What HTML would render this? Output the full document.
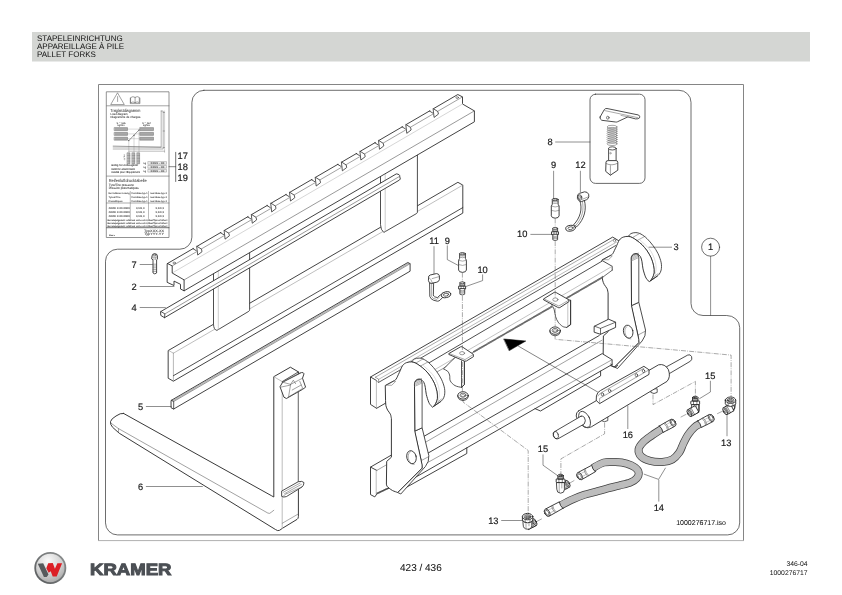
<!DOCTYPE html>
<html><head><meta charset="utf-8"><title>Pallet forks</title>
<style>
html,body{margin:0;padding:0;background:#fff;}
body{width:842px;height:595px;overflow:hidden;position:relative;font-family:"Liberation Sans",sans-serif;}
svg{position:absolute;left:0;top:0;will-change:transform;}
svg text{font-family:"Liberation Sans",sans-serif;text-rendering:geometricPrecision;}
</style></head><body>
<svg width="842" height="595" viewBox="0 0 842 595" stroke-linecap="round" stroke-linejoin="round">
<rect x="32" y="32" width="778" height="29.5" fill="#d4d6d3"/>
<text x="37.0" y="40.7" font-size="8" text-anchor="start" fill="#111" stroke="#111" stroke-width="0" >STAPELEINRICHTUNG</text>
<text x="37.0" y="48.7" font-size="8" text-anchor="start" fill="#111" stroke="#111" stroke-width="0" >APPAREILLAGE À PILE</text>
<text x="37.0" y="56.7" font-size="8" text-anchor="start" fill="#111" stroke="#111" stroke-width="0" >PALLET FORKS</text>
<path d="M98.5,540.5 V84.5 H743.5 V540.5" fill="none" stroke="#858585" stroke-width="1" stroke-linecap="square"/>
<path d="M98.5,540.6 H743.5" fill="none" stroke="#b0b0b0" stroke-width="1"/>
<path d="M203.9,90.3 L679,90.3 A12,12 0 0 1 691,102.3 L691,303.5 A12,12 0 0 0 703,315.5 L726.7,315.5 A13,12 0 0 1 739.7,327.5 L739.7,522.9 A12,12 0 0 1 727.7,534.9 L117.5,534.9 A12,12 0 0 1 105.5,522.9 L105.5,261.2 A12,12 0 0 1 117.5,249.2 L179.9,249.2 A12,12 0 0 0 191.9,237.2 L191.9,102.3 A12,12 0 0 1 203.9,90.3 Z" stroke="#3c3c3c" stroke-width="0.75" fill="none" />
<defs>
<radialGradient id="lg" cx="0.42" cy="0.25" r="0.85"><stop offset="0" stop-color="#fafafa"/><stop offset="0.55" stop-color="#d2d2d2"/><stop offset="1" stop-color="#a0a0a0"/></radialGradient>
</defs>
<defs><linearGradient id="rg" x1="1" y1="0" x2="0" y2="1"><stop offset="0" stop-color="#8f9292"/><stop offset="1" stop-color="#55585a"/></linearGradient></defs>
<circle cx="50.3" cy="568.0" r="16.0" fill="url(#rg)"/>
<circle cx="50.3" cy="568.0" r="14.2" fill="url(#lg)"/>
<path d="M37.8,563.7 L43.2,563.3 L48.5,574.4 L46.7,576.9 L43.9,576.9 Z" fill="#565a5c"/>
<path d="M48.2,563.3 L52.8,563.0 L54.9,568.7 L57.4,563.3 L62.1,563.2 L56.7,576.6 L52.7,576.6 L50.7,571.2 L48.7,572.8 L46.3,568.3 Z" fill="#dc1f26"/>
<text x="90.0" y="575.3" font-size="16.2" font-weight="bold" fill="#4b4f54" textLength="81.4" lengthAdjust="spacingAndGlyphs" stroke="#4b4f54" stroke-width="1.0" stroke-linejoin="miter">KRAMER</text>
<text x="420.9" y="570.6" font-size="10" text-anchor="middle" fill="#111" stroke="#111" stroke-width="0.05" >423 / 436</text>
<text x="807.6" y="565.9" font-size="6.8" text-anchor="end" fill="#111" stroke="#111" stroke-width="0" >346-04</text>
<text x="807.6" y="574.6" font-size="6.8" text-anchor="end" fill="#111" stroke="#111" stroke-width="0" >1000276717</text>
<text x="726.0" y="524.8" font-size="7" text-anchor="end" fill="#111" stroke="#111" stroke-width="0.06" >1000276717.iso</text>
<rect x="106.7" y="91.8" width="62.3" height="145.7" fill="#fff" stroke="#666" stroke-width="0.7"/>
<path d="M106.7,105.8 L169.0,105.8" stroke="#666" stroke-width="0.6" fill="none" />
<path d="M106.7,176.1 L169.0,176.1" stroke="#666" stroke-width="0.6" fill="none" />
<path d="M110.9,104.2 L117.5,92.8 L124.1,104.2 Z" stroke="#555" stroke-width="0.55" fill="none" />
<path d="M117.6,96.5 L117.6,101.5" stroke="#666" stroke-width="0.6" fill="none" />
<path d="M130.9,97.4 q2.1,-1.6 4.2,0 q2.1,-1.6 4.2,0 v5.2 q-2.1,-1.4 -4.2,0 q-2.1,-1.4 -4.2,0 Z M135.1,97.4 v5.2 M130.3,98.2 v5.4 h9.6 v-5.4" stroke="#444" stroke-width="0.5" fill="none" />
<text x="110.3" y="111.6" font-size="4.37" fill="#444" stroke="#444" stroke-width="0.06" text-anchor="start" textLength="30" lengthAdjust="spacingAndGlyphs">Traglastdiagramm</text>
<text x="110.5" y="114.8" font-size="2.91" fill="#3a3a3a" stroke="#3a3a3a" stroke-width="0.06" text-anchor="start" textLength="17" lengthAdjust="spacingAndGlyphs">Load diagram</text>
<text x="110.5" y="118.1" font-size="2.91" fill="#3a3a3a" stroke="#3a3a3a" stroke-width="0.06" text-anchor="start" textLength="30" lengthAdjust="spacingAndGlyphs">Diagramme de charges</text>
<text x="116.5" y="123.5" font-size="2.46" fill="#3a3a3a" stroke="#3a3a3a" stroke-width="0.06" text-anchor="start" textLength="9" lengthAdjust="spacingAndGlyphs">S = 125</text>
<text x="117.5" y="126.0" font-size="2.46" fill="#3a3a3a" stroke="#3a3a3a" stroke-width="0.06" text-anchor="start" textLength="7" lengthAdjust="spacingAndGlyphs">kg/Nm</text>
<text x="142" y="123.5" font-size="2.46" fill="#3a3a3a" stroke="#3a3a3a" stroke-width="0.06" text-anchor="start" textLength="9" lengthAdjust="spacingAndGlyphs">S = 1a7</text>
<text x="143" y="126.0" font-size="2.46" fill="#3a3a3a" stroke="#3a3a3a" stroke-width="0.06" text-anchor="start" textLength="7" lengthAdjust="spacingAndGlyphs">kg/Nm</text>
<rect x="114.5" y="127.6" width="13" height="3" fill="#a8a8a8" stroke="#555" stroke-width="0.4"/>
<rect x="140" y="127.6" width="13.5" height="3" fill="#a8a8a8" stroke="#555" stroke-width="0.4"/>
<path d="M127.5,129.1 L140.0,129.1" stroke="#888" stroke-width="0.3" fill="none" />
<rect x="114.5" y="132.4" width="13" height="3" fill="#a8a8a8" stroke="#555" stroke-width="0.4"/>
<rect x="140" y="132.4" width="13.5" height="3" fill="#a8a8a8" stroke="#555" stroke-width="0.4"/>
<path d="M127.5,133.9 L140.0,133.9" stroke="#888" stroke-width="0.3" fill="none" />
<rect x="114.5" y="137.2" width="13" height="3" fill="#a8a8a8" stroke="#555" stroke-width="0.4"/>
<rect x="140" y="137.2" width="13.5" height="3" fill="#a8a8a8" stroke="#555" stroke-width="0.4"/>
<path d="M127.5,138.7 L140.0,138.7" stroke="#888" stroke-width="0.3" fill="none" />
<path d="M128.8,140.6 L139.0,130.0" stroke="#555" stroke-width="0.6" fill="none" />
<circle cx="128.8" cy="140.6" r="0.6" fill="#444"/>
<path d="M128.8,140.6 L128.8,152.0" stroke="#777" stroke-width="0.3" fill="none" />
<circle cx="134" cy="135.3" r="0.6" fill="#444"/>
<path d="M134.0,135.3 L134.0,152.0" stroke="#777" stroke-width="0.3" fill="none" />
<circle cx="139" cy="130" r="0.6" fill="#444"/>
<path d="M139.0,130.0 L139.0,152.0" stroke="#777" stroke-width="0.3" fill="none" />
<path d="M161.2,111.0 h2.0 v38.0 h-50.0 M161.2,111.0 v36.0 h-48.0 M113.2,146.0 L161.2,147.4 M163.2,112.5 h1.4 M163.2,131 h1.4 M163.2,147.5 h1.4" stroke="#555" stroke-width="0.45" fill="none" />
<path d="M164.6,111.0 L164.6,152.4" stroke="#777" stroke-width="0.35" fill="none" />
<path d="M128.8,151.2 L164.6,151.2" stroke="#555" stroke-width="0.4" fill="none" />
<rect x="127.4" y="152.8" width="2.5" height="11.0" fill="#b4b4b4" stroke="#555" stroke-width="0.4"/>
<path d="M127.4,155.5 L129.9,155.5" stroke="#666" stroke-width="0.3" fill="none" />
<path d="M127.4,158.3 L129.9,158.3" stroke="#666" stroke-width="0.3" fill="none" />
<path d="M127.4,161.1 L129.9,161.1" stroke="#666" stroke-width="0.3" fill="none" />
<rect x="132.25" y="152.8" width="2.5" height="11.0" fill="#b4b4b4" stroke="#555" stroke-width="0.4"/>
<path d="M132.2,155.5 L134.8,155.5" stroke="#666" stroke-width="0.3" fill="none" />
<path d="M132.2,158.3 L134.8,158.3" stroke="#666" stroke-width="0.3" fill="none" />
<path d="M132.2,161.1 L134.8,161.1" stroke="#666" stroke-width="0.3" fill="none" />
<rect x="137.1" y="152.8" width="2.5" height="11.0" fill="#b4b4b4" stroke="#555" stroke-width="0.4"/>
<path d="M137.1,155.5 L139.6,155.5" stroke="#666" stroke-width="0.3" fill="none" />
<path d="M137.1,158.3 L139.6,158.3" stroke="#666" stroke-width="0.3" fill="none" />
<path d="M137.1,161.1 L139.6,161.1" stroke="#666" stroke-width="0.3" fill="none" />
<text x="0" y="0" font-size="2.2" fill="#444" transform="translate(125.2,160.5) rotate(-90)">kg/Nm</text>
<rect x="148.2" y="161.6" width="18.3" height="2.7" fill="#eee" stroke="#666" stroke-width="0.35"/>
<text x="150.5" y="163.79999999999998" font-size="2.46" fill="#3a3a3a" stroke="#3a3a3a" stroke-width="0.06" text-anchor="start" textLength="14" lengthAdjust="spacingAndGlyphs">XXXX - XX</text>
<text x="143.5" y="163.9" font-size="2.24" fill="#3a3a3a" stroke="#3a3a3a" stroke-width="0.06" text-anchor="start" textLength="2.5" lengthAdjust="spacingAndGlyphs">kg</text>
<rect x="148.2" y="165.5" width="18.3" height="2.7" fill="#eee" stroke="#666" stroke-width="0.35"/>
<text x="150.5" y="167.7" font-size="2.46" fill="#3a3a3a" stroke="#3a3a3a" stroke-width="0.06" text-anchor="start" textLength="14" lengthAdjust="spacingAndGlyphs">XXXX - XX</text>
<text x="143.5" y="167.8" font-size="2.24" fill="#3a3a3a" stroke="#3a3a3a" stroke-width="0.06" text-anchor="start" textLength="2.5" lengthAdjust="spacingAndGlyphs">kg</text>
<rect x="148.2" y="169.4" width="18.3" height="2.7" fill="#eee" stroke="#666" stroke-width="0.35"/>
<text x="150.5" y="171.6" font-size="2.46" fill="#3a3a3a" stroke="#3a3a3a" stroke-width="0.06" text-anchor="start" textLength="14" lengthAdjust="spacingAndGlyphs">XXXX - XX</text>
<text x="143.5" y="171.70000000000002" font-size="2.24" fill="#3a3a3a" stroke="#3a3a3a" stroke-width="0.06" text-anchor="start" textLength="2.5" lengthAdjust="spacingAndGlyphs">kg</text>
<text x="111" y="166.2" font-size="2.58" fill="#3a3a3a" stroke="#3a3a3a" stroke-width="0.06" text-anchor="start" textLength="27" lengthAdjust="spacingAndGlyphs">Gültig für Anbaugerät</text>
<text x="111" y="169.6" font-size="2.58" fill="#3a3a3a" stroke="#3a3a3a" stroke-width="0.06" text-anchor="start" textLength="24" lengthAdjust="spacingAndGlyphs">Valid for attachment</text>
<text x="111" y="173.0" font-size="2.58" fill="#3a3a3a" stroke="#3a3a3a" stroke-width="0.06" text-anchor="start" textLength="29" lengthAdjust="spacingAndGlyphs">Valable pour l'équipement</text>
<text x="108.7" y="181.9" font-size="4.37" fill="#444" stroke="#444" stroke-width="0.06" text-anchor="start" textLength="38" lengthAdjust="spacingAndGlyphs">Reifenluftdrucktabelle</text>
<text x="108.7" y="185.5" font-size="3.14" fill="#3a3a3a" stroke="#3a3a3a" stroke-width="0.06" text-anchor="start" textLength="25" lengthAdjust="spacingAndGlyphs">Tyre/Tire pressure</text>
<text x="108.7" y="188.9" font-size="3.14" fill="#3a3a3a" stroke="#3a3a3a" stroke-width="0.06" text-anchor="start" textLength="30" lengthAdjust="spacingAndGlyphs">Pression pneumatiques</text>
<path d="M106.7,203.0 L169.0,203.0" stroke="#555" stroke-width="0.5" fill="none" />
<path d="M130.3,191.5 L130.3,218.5" stroke="#555" stroke-width="0.4" fill="none" />
<path d="M148.5,191.5 L148.5,218.5" stroke="#555" stroke-width="0.4" fill="none" />
<text x="108.5" y="194.2" font-size="2.35" fill="#3a3a3a" stroke="#3a3a3a" stroke-width="0.06" text-anchor="start" textLength="21" lengthAdjust="spacingAndGlyphs">Bei Verlässer-Lösung</text>
<text x="131.5" y="194.2" font-size="2.35" fill="#3a3a3a" stroke="#3a3a3a" stroke-width="0.06" text-anchor="start" textLength="16" lengthAdjust="spacingAndGlyphs">front-Bau-typ-1</text>
<text x="150" y="194.2" font-size="2.35" fill="#3a3a3a" stroke="#3a3a3a" stroke-width="0.06" text-anchor="start" textLength="17" lengthAdjust="spacingAndGlyphs">rear-Bau-typ-1</text>
<text x="108.5" y="197.9" font-size="2.35" fill="#3a3a3a" stroke="#3a3a3a" stroke-width="0.06" text-anchor="start" textLength="12" lengthAdjust="spacingAndGlyphs">Tyres/Tire</text>
<text x="131.5" y="197.9" font-size="2.35" fill="#3a3a3a" stroke="#3a3a3a" stroke-width="0.06" text-anchor="start" textLength="16" lengthAdjust="spacingAndGlyphs">front-Bau-typ-1</text>
<text x="150" y="197.9" font-size="2.35" fill="#3a3a3a" stroke="#3a3a3a" stroke-width="0.06" text-anchor="start" textLength="17" lengthAdjust="spacingAndGlyphs">rear-Bau-typ-1</text>
<text x="108.5" y="201.6" font-size="2.35" fill="#3a3a3a" stroke="#3a3a3a" stroke-width="0.06" text-anchor="start" textLength="14" lengthAdjust="spacingAndGlyphs">Pressél/ques</text>
<text x="131.5" y="201.6" font-size="2.35" fill="#3a3a3a" stroke="#3a3a3a" stroke-width="0.06" text-anchor="start" textLength="16" lengthAdjust="spacingAndGlyphs">front-Bau-typ-1</text>
<text x="150" y="201.6" font-size="2.35" fill="#3a3a3a" stroke="#3a3a3a" stroke-width="0.06" text-anchor="start" textLength="17" lengthAdjust="spacingAndGlyphs">rear-Bau-typ-1</text>
<text x="108.8" y="209.3" font-size="2.46" fill="#3a3a3a" stroke="#3a3a3a" stroke-width="0.06" text-anchor="start" textLength="21" lengthAdjust="spacingAndGlyphs">00/00 X 00 0000</text>
<text x="136" y="209.3" font-size="2.46" fill="#3a3a3a" stroke="#3a3a3a" stroke-width="0.06" text-anchor="start" textLength="8.5" lengthAdjust="spacingAndGlyphs">X,X/X,X</text>
<text x="155.5" y="209.3" font-size="2.46" fill="#3a3a3a" stroke="#3a3a3a" stroke-width="0.06" text-anchor="start" textLength="8.5" lengthAdjust="spacingAndGlyphs">X,X/X,X</text>
<text x="108.8" y="213" font-size="2.46" fill="#3a3a3a" stroke="#3a3a3a" stroke-width="0.06" text-anchor="start" textLength="21" lengthAdjust="spacingAndGlyphs">00/00 X 00 0000</text>
<text x="136" y="213" font-size="2.46" fill="#3a3a3a" stroke="#3a3a3a" stroke-width="0.06" text-anchor="start" textLength="8.5" lengthAdjust="spacingAndGlyphs">X,X/X,X</text>
<text x="155.5" y="213" font-size="2.46" fill="#3a3a3a" stroke="#3a3a3a" stroke-width="0.06" text-anchor="start" textLength="8.5" lengthAdjust="spacingAndGlyphs">X,X/X,X</text>
<text x="108.8" y="216.7" font-size="2.46" fill="#3a3a3a" stroke="#3a3a3a" stroke-width="0.06" text-anchor="start" textLength="21" lengthAdjust="spacingAndGlyphs">00/00 X 00 0000</text>
<text x="136" y="216.7" font-size="2.46" fill="#3a3a3a" stroke="#3a3a3a" stroke-width="0.06" text-anchor="start" textLength="8.5" lengthAdjust="spacingAndGlyphs">X,X/X,X</text>
<text x="155.5" y="216.7" font-size="2.46" fill="#3a3a3a" stroke="#3a3a3a" stroke-width="0.06" text-anchor="start" textLength="8.5" lengthAdjust="spacingAndGlyphs">X,X/X,X</text>
<text x="107.5" y="221.2" font-size="2.24" fill="#333" stroke="#333" stroke-width="0.06" text-anchor="start" textLength="60" lengthAdjust="spacingAndGlyphs">Bei Stapelgabeln Luftdruck vorne um 0,5bar/7psi erhöhen!</text>
<text x="107.5" y="223.9" font-size="2.24" fill="#333" stroke="#333" stroke-width="0.06" text-anchor="start" textLength="60" lengthAdjust="spacingAndGlyphs">Bei Stapelgabeln Luftdruck vorne um 0,5bar/7psi erhöhen!</text>
<text x="107.5" y="226.6" font-size="2.24" fill="#333" stroke="#333" stroke-width="0.06" text-anchor="start" textLength="60" lengthAdjust="spacingAndGlyphs">Bei Stapelgabeln Luftdruck vorne um 0,5bar/7psi erhöhen!</text>
<path d="M106.7,227.7 L169.0,227.7" stroke="#333" stroke-width="0.7" fill="none" />
<text x="144" y="231.5" font-size="3.36" fill="#333" stroke="#333" stroke-width="0.06" text-anchor="start" textLength="20" lengthAdjust="spacingAndGlyphs">TypXXX-XX</text>
<text x="144" y="234.6" font-size="3.36" fill="#333" stroke="#333" stroke-width="0.06" text-anchor="start" textLength="20" lengthAdjust="spacingAndGlyphs">TypYYY-YY</text>
<text x="109" y="236.3" font-size="2.02" fill="#333" stroke="#333" stroke-width="0.06" text-anchor="start" textLength="6" lengthAdjust="spacingAndGlyphs">Made in</text>
<path d="M175.7,152.3 L175.7,181.5" stroke="#333" stroke-width="0.7" fill="none" />
<path d="M169.0,166.7 L175.7,166.7" stroke="#333" stroke-width="0.6" fill="none" />
<text x="177.6" y="159.0" font-size="9.3" text-anchor="start" fill="#1a1a1a" stroke="#1a1a1a" stroke-width="0.18" >17</text>
<text x="177.6" y="169.8" font-size="9.3" text-anchor="start" fill="#1a1a1a" stroke="#1a1a1a" stroke-width="0.18" >18</text>
<text x="177.6" y="180.5" font-size="9.3" text-anchor="start" fill="#1a1a1a" stroke="#1a1a1a" stroke-width="0.18" >19</text>
<path d="M168.5,350.4 L457.9,182.3 L462.8,185.1 L462.8,213.1 L173.4,381.2 L168.5,378.4 Z" stroke="#2e2e2e" stroke-width="0.9" fill="#fff" />
<path d="M173.4,353.2 L462.8,185.1" stroke="#8a8a8a" stroke-width="0.55" fill="none" />
<path d="M168.5,350.4 L173.4,353.2" stroke="#8a8a8a" stroke-width="0.55" fill="none" />
<path d="M173.4,353.2 L173.4,381.2" stroke="#9a9a9a" stroke-width="0.7" fill="none" />
<path d="M173.4,375.7 L462.8,207.6" stroke="#2e2e2e" stroke-width="0.85" fill="none" />
<path d="M213.5,268 L213.5,324.3 Q213.7,329.7 216.9,330.4 L248.79999999999998,311.3 Q249.6,310.8 249.6,309.8 L249.6,248 Z" stroke="#2e2e2e" stroke-width="0.85" fill="#fff" />
<path d="M218.3,266.0 L218.3,329.6" stroke="#aaa" stroke-width="0.6" fill="none" />
<path d="M380.5,172 L380.5,224.7 Q380.7,230.1 383.8,232.4 L416.59999999999997,213.5 Q417.4,213.0 417.4,212.0 L417.4,150 Z" stroke="#2e2e2e" stroke-width="0.85" fill="#fff" />
<path d="M385.2,170.0 L385.2,231.6" stroke="#aaa" stroke-width="0.6" fill="none" />
<path d="M160.9,311.5 L396.3,173.9 Q400.2,174.2 399.8,176.79999999999998 Q401,179.5 399.5,180.0 L164.5,317.7 L161.1,315.6 Z" stroke="#2e2e2e" stroke-width="0.9" fill="#fff" />
<path d="M164.9,313.9 L399.2,176.6" stroke="#555" stroke-width="0.6" fill="none" />
<path d="M160.9,311.5 L164.9,313.9 L164.5,317.7" stroke="#2e2e2e" stroke-width="0.8" fill="none" />
<path d="M167.5,263.5 L457.8,94.5 L462.5,96.9 L462.5,104.0 L474.4,110.9 L474.4,121.8 L184.1,290.8 L180.5,289.0 L180.5,284.3 L174.0,281.1 L174.0,285.5 L167.5,282.5 Z" stroke="#2e2e2e" stroke-width="0.9" fill="#fff" />
<path d="M172.2,265.9 L462.5,96.9" stroke="#555" stroke-width="0.55" fill="none" />
<path d="M172.2,273.0 L462.5,104.0" stroke="#c4c4c4" stroke-width="0.7" fill="none" />
<path d="M184.1,279.9 L474.4,110.9" stroke="#555" stroke-width="0.6" fill="none" />
<path d="M167.5,263.5 L172.2,265.9 L172.2,273.0 L184.1,279.9 L184.1,290.8" stroke="#2e2e2e" stroke-width="0.9" fill="none" />
<path d="M193.2,247.5 L196.9,245.1 L197.8,254.7 L196.2,250.9 Z" stroke="#fff" stroke-width="0.1" fill="#fff" />
<path d="M193.0,248.7 L196.3,250.7" stroke="#2e2e2e" stroke-width="0.8" fill="none" />
<path d="M197.0,246.3 L201.5,249.2 L202.0,251.7 L198.0,254.8 Z" stroke="#2e2e2e" stroke-width="0.8" fill="#fff" />
<path d="M220.6,231.5 L224.3,229.2 L225.2,238.8 L223.6,234.9 Z" stroke="#fff" stroke-width="0.1" fill="#fff" />
<path d="M220.4,232.7 L223.7,234.7" stroke="#2e2e2e" stroke-width="0.8" fill="none" />
<path d="M224.4,230.4 L228.9,233.3 L229.4,235.8 L225.4,238.9 Z" stroke="#2e2e2e" stroke-width="0.8" fill="#fff" />
<path d="M247.8,215.7 L251.5,213.3 L252.4,222.9 L250.8,219.1 Z" stroke="#fff" stroke-width="0.1" fill="#fff" />
<path d="M247.6,216.9 L250.9,218.9" stroke="#2e2e2e" stroke-width="0.8" fill="none" />
<path d="M251.6,214.5 L256.1,217.4 L256.6,219.9 L252.6,223.0 Z" stroke="#2e2e2e" stroke-width="0.8" fill="#fff" />
<path d="M267.2,204.4 L270.9,202.0 L271.8,211.6 L270.2,207.8 Z" stroke="#fff" stroke-width="0.1" fill="#fff" />
<path d="M267.0,205.6 L270.3,207.6" stroke="#2e2e2e" stroke-width="0.8" fill="none" />
<path d="M271.0,203.2 L275.5,206.1 L276.0,208.6 L272.0,211.7 Z" stroke="#2e2e2e" stroke-width="0.8" fill="#fff" />
<path d="M286.0,193.4 L289.7,191.1 L290.6,200.7 L289.0,196.8 Z" stroke="#fff" stroke-width="0.1" fill="#fff" />
<path d="M285.8,194.6 L289.1,196.6" stroke="#2e2e2e" stroke-width="0.8" fill="none" />
<path d="M289.8,192.3 L294.3,195.2 L294.8,197.7 L290.8,200.8 Z" stroke="#2e2e2e" stroke-width="0.8" fill="#fff" />
<path d="M311.7,178.5 L315.4,176.1 L316.3,185.7 L314.7,181.9 Z" stroke="#fff" stroke-width="0.1" fill="#fff" />
<path d="M311.5,179.7 L314.8,181.7" stroke="#2e2e2e" stroke-width="0.8" fill="none" />
<path d="M315.5,177.3 L320.0,180.2 L320.5,182.7 L316.5,185.8 Z" stroke="#2e2e2e" stroke-width="0.8" fill="#fff" />
<path d="M337.9,163.2 L341.6,160.9 L342.5,170.5 L340.9,166.6 Z" stroke="#fff" stroke-width="0.1" fill="#fff" />
<path d="M337.7,164.4 L341.0,166.4" stroke="#2e2e2e" stroke-width="0.8" fill="none" />
<path d="M341.7,162.1 L346.2,165.0 L346.7,167.5 L342.7,170.6 Z" stroke="#2e2e2e" stroke-width="0.8" fill="#fff" />
<path d="M356.4,152.4 L360.1,150.1 L361.0,159.7 L359.4,155.8 Z" stroke="#fff" stroke-width="0.1" fill="#fff" />
<path d="M356.2,153.6 L359.5,155.6" stroke="#2e2e2e" stroke-width="0.8" fill="none" />
<path d="M360.2,151.3 L364.7,154.2 L365.2,156.7 L361.2,159.8 Z" stroke="#2e2e2e" stroke-width="0.8" fill="#fff" />
<path d="M375.0,141.6 L378.7,139.3 L379.6,148.9 L378.0,145.0 Z" stroke="#fff" stroke-width="0.1" fill="#fff" />
<path d="M374.8,142.8 L378.1,144.8" stroke="#2e2e2e" stroke-width="0.8" fill="none" />
<path d="M378.8,140.5 L383.3,143.4 L383.8,145.9 L379.8,149.0 Z" stroke="#2e2e2e" stroke-width="0.8" fill="#fff" />
<path d="M402.3,125.7 L406.0,123.4 L406.9,133.0 L405.3,129.1 Z" stroke="#fff" stroke-width="0.1" fill="#fff" />
<path d="M402.1,126.9 L405.4,128.9" stroke="#2e2e2e" stroke-width="0.8" fill="none" />
<path d="M406.1,124.6 L410.6,127.5 L411.1,130.0 L407.1,133.1 Z" stroke="#2e2e2e" stroke-width="0.8" fill="#fff" />
<path d="M429.6,109.8 L433.3,107.5 L434.2,117.1 L432.6,113.2 Z" stroke="#fff" stroke-width="0.1" fill="#fff" />
<path d="M429.4,111.0 L432.7,113.0" stroke="#2e2e2e" stroke-width="0.8" fill="none" />
<path d="M433.4,108.7 L437.9,111.6 L438.4,114.1 L434.4,117.2 Z" stroke="#2e2e2e" stroke-width="0.8" fill="#fff" />
<ellipse cx="174.2" cy="263.0" rx="1.3" ry="0.9" transform="rotate(0 174.2 263.0)" stroke="#444" stroke-width="0.6" fill="none"/>
<ellipse cx="457.2" cy="97.6" rx="1.3" ry="0.9" transform="rotate(0 457.2 97.6)" stroke="#444" stroke-width="0.6" fill="none"/>
<path d="M171.4,400.3 L407.8,262.5 L410.1,263.7 L410.1,271.2 L173.7,409.0 L171.4,407.9 Z" stroke="#2e2e2e" stroke-width="0.9" fill="#fff" />
<path d="M173.7,401.5 L410.1,263.7" stroke="#555" stroke-width="0.6" fill="none" />
<path d="M172.6,400.9 L409.0,263.1" stroke="#666" stroke-width="1.3" fill="none" stroke-dasharray="0.5 0.5" stroke-linecap="butt"/>
<path d="M171.4,400.3 L173.7,401.5 L173.7,409.0" stroke="#2e2e2e" stroke-width="0.8" fill="none" />
<path d="M123.5,413.4 L271.3,495.6 L273.8,497.0 L273.8,376.7 L290.4,367.2 L298.4,371.9 L298.4,516.5 Q298.4,518.6 297.0,519.4 L282.4,528.3 L279.6,530.3 Q277.8,531.3 275.6,529.6 L119.2,433.2 L112.6,427.3 Q110.0,424.3 110.5,421.6 Q111.2,418.8 116.0,416.0 Q120.5,412.8 123.5,413.4 Z" stroke="#2e2e2e" stroke-width="0.95" fill="#fff" />
<path d="M111.3,423.4 L118.5,428.6 L267.9,513.1 Q269.8,514.0 271.2,512.3 L273.8,510.3" stroke="#555" stroke-width="0.55" fill="none" />
<path d="M118.5,428.6 L118.5,432.4" stroke="#555" stroke-width="0.5" fill="none" />
<path d="M273.8,376.7 L282.2,381.6 L282.2,528.0" stroke="#b5b5b5" stroke-width="0.9" fill="none" />
<path d="M282.2,381.6 L298.4,371.9" stroke="#2e2e2e" stroke-width="0.8" fill="none" />
<path d="M282.2,523.3 L298.4,513.9" stroke="#555" stroke-width="0.5" fill="none" />
<path d="M298.4,390.0 L298.4,482.0" stroke="#8a8a8a" stroke-width="1.1" fill="none" />
<path d="M280.2,386.4 L282.7,382.2 L301.4,372.6 Q303.6,372.2 304.0,373.8 L302.5,378.2 L305.6,387.2 L302.5,389.4 L286.4,398.5 L284.3,397.4 Z" stroke="#2e2e2e" stroke-width="0.9" fill="#fff" />
<path d="M282.7,382.2 L290.6,384.4 L302.5,378.2 M290.6,384.4 L288.6,396.6 M290.6,384.4 L293.3,380.2 L295.6,383.7 M288.8,396.8 L302.7,388.4 L299.8,381.4 M280.4,387.2 L290,385.2 M292.2,390.0 L301.2,385.0" stroke="#555" stroke-width="0.55" fill="none" />
<path d="M284.6,380.6 L300.6,372.4" stroke="#555" stroke-width="0.5" fill="none" />
<path d="M282.0,490.9 L298.3,481.7 Q302.4,480.6 304.0,482.6 Q303.8,485.6 302.0,487.0 L286.4,496.6 Q283.4,497.6 282.0,496.6 Z" stroke="#2e2e2e" stroke-width="0.85" fill="#fff" />
<path d="M283.4,492.2 L300.2,483.0 M284.6,493.6 L301.4,484.4 M286.4,493.6 L283.0,496.4 M286.6,493.8 L302.0,486.8" stroke="#555" stroke-width="0.5" fill="none" />
<path d="M370.5,467.1 L599.3,335.5 L603.0,340.0 L603.0,372.0 L423.0,475.0 L374.8,496.9 L370.5,494.6 Z" stroke="#fff" stroke-width="0.1" fill="#fff" />
<path d="M370.5,467.1 L599.3,335.5" stroke="#2e2e2e" stroke-width="0.9" fill="none" />
<path d="M376.8,470.4 L602.0,340.2" stroke="#555" stroke-width="0.55" fill="none" />
<path d="M370.5,467.1 L376.8,470.4 L376.8,494.0 L374.8,496.9 L370.5,494.6 Z" stroke="#fff" stroke-width="0.1" fill="#fff" />
<path d="M376.8,470.4 L370.5,467.1 L370.5,494.6 L374.8,496.9 L376.8,494.0" stroke="#2e2e2e" stroke-width="0.9" fill="none" />
<path d="M376.2,470.6 L376.2,494.0" stroke="#a0a0a0" stroke-width="0.7" fill="none" />
<path d="M376.8,493.6 L389.5,487.6" stroke="#8a8a8a" stroke-width="1.6" fill="none" stroke-linecap="butt"/>
<path d="M376.8,493.6 L389.5,487.6" stroke="#222" stroke-width="1.6" fill="none" stroke-dasharray="0.6 0.45" stroke-linecap="butt"/>
<path d="M370.5,377.0 L612.7,237.1 L619.3,241.1 L619.3,262.0 L376.8,408.2 L370.5,404.2 Z" stroke="#fff" stroke-width="0.1" fill="#fff" />
<path d="M370.5,377.0 L612.7,237.1 L619.3,241.1" stroke="#2e2e2e" stroke-width="0.9" fill="none" />
<path d="M375.4,377.2 L615.4,238.6" stroke="#555" stroke-width="0.5" fill="none" />
<path d="M378.6,379.4 L616.6,242.0" stroke="#777" stroke-width="0.5" fill="none" />
<path d="M378.6,382.4 L615.6,245.6" stroke="#2e2e2e" stroke-width="0.8" fill="none" />
<path d="M370.5,377.0 L376.4,380.6 L376.4,408.2 L370.5,404.4 Z" stroke="#fff" stroke-width="0.1" fill="#fff" />
<path d="M376.4,408.2 L370.5,404.4 L370.5,377.0 L376.4,380.4" stroke="#2e2e2e" stroke-width="0.9" fill="none" />
<path d="M376.4,380.6 L376.4,408.0" stroke="#a0a0a0" stroke-width="0.7" fill="none" />
<path d="M375.4,377.2 L378.6,379.2 L378.6,382.4 L376.4,381.0" stroke="#555" stroke-width="0.55" fill="none" />
<path d="M376.8,408.2 L386.0,402.9" stroke="#2e2e2e" stroke-width="0.9" fill="none" />
<ellipse cx="614.6" cy="240.6" rx="1.1" ry="1.4" transform="rotate(0 614.6 240.6)" stroke="#555" stroke-width="0.5" fill="none"/>
<path d="M628.4,236.4 C628.8,235.9 629.6,234.2 630.9,233.6 C632.1,233.0 634.2,232.5 635.9,232.6 C637.6,232.7 639.1,233.1 641.0,234.1 C642.9,235.1 645.0,236.7 647.0,238.6 C649.0,240.5 651.2,243.2 653.1,245.7 C654.9,248.2 656.7,250.8 658.1,253.7 C659.4,256.6 660.7,260.1 661.2,262.8 C661.7,265.5 661.5,268.0 661.2,269.9 C660.9,271.8 659.9,273.1 659.3,274.1 C658.6,275.1 657.6,275.8 657.3,276.1 L650.3,280.9 L652.3,277.9 L654.1,272.9 L653.6,265.8 L651.1,257.8 L647.0,250.7 L642.0,244.7 L637.0,240.6 L632.4,237.6 L628.4,236.4 Z" stroke="#2e2e2e" stroke-width="0.85" fill="#fff" />
<path d="M631.5,305.6 L638.8,302.3 L645.5,330.0 Q646.1,336.1 642.1,341.0 L617.5,368.5 L614.4,367.0 L638.8,342.6 L637.9,335.1 Z" stroke="#2e2e2e" stroke-width="0.85" fill="#fff" />
<path d="M631.2,261.2 L631.5,305.6 L638.8,302.3 L638.8,257.5 L638.1,254.9 L637.0,253.7 L633.4,254.2 L631.4,256.8 Z" stroke="#2e2e2e" stroke-width="0.8" fill="#fff" />
<path d="M602.3,259.8 L611.0,255.1 C611.3,254.8 612.1,254.8 612.9,253.5 C613.7,252.2 614.9,249.3 616.0,247.1 C617.1,244.9 618.1,241.8 619.3,240.1 C620.5,238.4 621.8,237.7 623.3,237.1 C624.8,236.5 626.9,236.3 628.4,236.4 C629.9,236.5 631.0,236.9 632.4,237.6 C633.8,238.3 635.4,239.4 637.0,240.6 C638.6,241.8 640.3,243.0 642.0,244.7 C643.7,246.4 645.5,248.5 647.0,250.7 C648.5,252.9 650.0,255.3 651.1,257.8 C652.2,260.3 653.1,263.3 653.6,265.8 C654.1,268.3 654.3,270.9 654.1,272.9 C653.9,274.9 652.9,276.6 652.3,277.9 C651.7,279.2 650.6,280.4 650.3,280.9 C650.1,281.0 649.5,281.8 649.1,281.7 C648.7,281.6 647.9,280.4 647.7,280.1 C647.3,279.6 646.3,278.8 645.5,276.9 C644.7,275.0 643.6,271.4 643.0,268.9 C642.4,266.4 642.4,263.8 642.0,261.8 C641.6,259.8 641.3,258.2 640.5,256.8 C639.7,255.5 638.2,254.1 637.0,253.7 C635.8,253.3 634.3,253.7 633.4,254.2 C632.5,254.7 631.8,255.6 631.4,256.8 C631.0,258.0 631.2,260.5 631.2,261.2 L631.5,305.6 L637.9,335.1 Q639.3,340.1 638.8,342.6 L614.4,367.0 C613.5,366.7 610.7,365.8 609.3,365.1 C607.9,364.4 606.9,363.5 606.0,362.8 C605.1,362.1 604.2,361.4 603.7,360.7 C603.2,360.0 603.2,359.0 603.1,358.6 L603.4,335.9 L608.1,331.7 L608.1,293.0 C607.9,292.3 607.7,290.1 607.1,288.7 C606.5,287.3 605.0,286.0 604.3,284.6 C603.5,283.2 602.9,281.6 602.6,280.1 C602.3,278.6 602.3,276.3 602.3,275.5  Z" stroke="#2e2e2e" stroke-width="0.95" fill="#fff" />
<path d="M603.3,259.5 L610.1,255.8 L612.3,256.0 L608.7,259.5 Z" stroke="#555" stroke-width="0.5" fill="none" />
<path d="M632.4,237.6 L640.0,233.3" stroke="#555" stroke-width="0.5" fill="none" />
<path d="M637.0,240.6 L645.0,236.3" stroke="#555" stroke-width="0.5" fill="none" />
<path d="M640.0,240.1 C641.5,241.5 646.7,245.8 649.1,248.7 C651.4,251.6 652.9,254.8 654.1,257.8 C655.3,260.8 655.9,264.0 656.1,266.9 C656.3,269.8 655.3,273.6 655.1,274.9 " stroke="#bbb" stroke-width="0.5" fill="none" />
<path d="M650.3,280.9 L657.3,276.1" stroke="#2e2e2e" stroke-width="0.8" fill="none" />
<path d="M652.1,278.1 L658.1,273.7" stroke="#555" stroke-width="0.5" fill="none" />
<path d="M632.9,255.3 L638.3,253.1" stroke="#555" stroke-width="0.45" fill="none" />
<path d="M632.3,256.6 L638.3,253.8" stroke="#555" stroke-width="0.45" fill="none" />
<path d="M632.3,257.9 L638.3,255.1" stroke="#555" stroke-width="0.45" fill="none" />
<path d="M632.3,259.2 L638.3,256.4" stroke="#555" stroke-width="0.45" fill="none" />
<path d="M632.3,260.5 L638.3,257.7" stroke="#555" stroke-width="0.45" fill="none" />
<path d="M637.9,335.1 L645.5,331.1" stroke="#555" stroke-width="0.55" fill="none" />
<ellipse cx="628.2" cy="331.7" rx="4.7" ry="6.6" transform="rotate(-14 628.2 331.7)" stroke="#2e2e2e" stroke-width="0.85" fill="#fff"/>
<path d="M630.9,338.8 C630.6,338.7 629.8,338.8 629.2,338.6 C628.7,338.4 628.1,338.1 627.6,337.6 C627.1,337.2 626.6,336.6 626.2,336.0 C625.9,335.4 625.5,334.7 625.3,334.0 C625.1,333.3 624.9,332.5 624.9,331.7 C624.8,331.0 624.9,330.2 625.0,329.6 C625.2,328.9 625.5,328.2 625.8,327.7 C626.1,327.2 626.8,326.6 627.0,326.4 " stroke="#555" stroke-width="0.5" fill="none" />
<path d="M594.5,326.2 L608.6,319.2 L615.6,322.2 L615.6,327.4 L600.5,334.3 L594.5,332.3 Z" stroke="#2e2e2e" stroke-width="0.9" fill="#fff" />
<path d="M594.5,326.2 L600.5,328.4 L615.6,322.2" stroke="#2e2e2e" stroke-width="0.7" fill="none" />
<path d="M600.5,328.4 L600.5,334.3" stroke="#2e2e2e" stroke-width="0.7" fill="none" />
<path d="M410.0,463.4 L602.2,353.6 L612.1,359.7 L612.1,364.5 L600.6,371.2 L600.6,375.9 L540.5,411.0 L535.0,408.6 L466.8,447.9 L466.8,453.5 L428.4,475.0 L405.0,488.0 Z" stroke="#fff" stroke-width="0.1" fill="#fff" />
<path d="M410.0,463.4 L602.2,353.6 L612.1,359.7 L612.1,364.5" stroke="#2e2e2e" stroke-width="0.9" fill="none" />
<path d="M410.0,472.4 L612.1,359.7" stroke="#555" stroke-width="0.55" fill="none" />
<path d="M405.0,483.3 L612.1,364.5" stroke="#2e2e2e" stroke-width="0.9" fill="none" />
<path d="M466.8,447.9 L466.8,453.5 L405.0,488.1" stroke="#2e2e2e" stroke-width="0.9" fill="none" />
<path d="M535.0,408.6 L540.5,411.0 L600.6,375.9 L600.6,371.2" stroke="#2e2e2e" stroke-width="0.9" fill="none" />
<path d="M617.7,365.6 Q615.2,368.2 612.8,366.6 L610.8,364.0" stroke="#2e2e2e" stroke-width="0.9" fill="none" />
<path d="M400.0,379.9 L602.6,260.8 L612.2,266.3 L612.2,270.2 L400.0,395.6 Z" stroke="#fff" stroke-width="0.1" fill="#fff" />
<path d="M400.0,379.9 L602.6,260.8 L612.2,266.3 L612.2,270.2" stroke="#2e2e2e" stroke-width="0.85" fill="none" />
<path d="M400.0,389.9 L612.2,266.3" stroke="#999" stroke-width="0.6" fill="none" />
<path d="M430.0,375.9 L453.4,362.6 L453.4,359.2 L457.0,357.4" stroke="#555" stroke-width="0.6" fill="none" />
<path d="M473.4,352.0 L552.0,306.6" stroke="#a8a8a8" stroke-width="1.7" fill="none" stroke-linecap="butt"/>
<path d="M473.4,352.0 L552.0,306.6" stroke="#2a2a2a" stroke-width="1.7" fill="none" stroke-dasharray="0.5 0.55" stroke-linecap="butt"/>
<path d="M566.8,298.0 L603.0,277.0" stroke="#a8a8a8" stroke-width="1.7" fill="none" stroke-linecap="butt"/>
<path d="M566.8,298.0 L603.0,277.0" stroke="#2a2a2a" stroke-width="1.7" fill="none" stroke-dasharray="0.5 0.55" stroke-linecap="butt"/>
<path d="M466.0,356.6 L473.4,352.0" stroke="#555" stroke-width="0.6" fill="none" />
<path d="M603.0,277.0 L612.2,270.2" stroke="#2e2e2e" stroke-width="0.7" fill="none" />
<path d="M443.8,369.1 C444.4,369.5 446.6,370.2 447.6,371.2 C448.6,372.2 449.2,373.4 449.6,375.0 C450.1,376.6 449.4,379.1 450.3,380.9 C451.2,382.7 453.1,384.5 455.0,385.6 C456.9,386.7 460.4,387.1 461.5,387.4 L464.4,384.6 L464.4,359.0 L456.0,357.0 Z" stroke="#2e2e2e" stroke-width="0.8" fill="#fff" />
<path d="M461.5,361.0 L461.5,387.2" stroke="#444" stroke-width="0.9" fill="none" stroke-dasharray="1.6 0.5"/>
<path d="M464.4,361.0 L464.4,384.6 L461.5,387.4" stroke="#2e2e2e" stroke-width="0.8" fill="none" />
<path d="M449.1,353.4 L460.6,346.8 L462.0,346.7 L473.2,354.2 L473.5,356.6 L466.4,361.0 L464.6,361.2 L449.2,354.6 Z" stroke="#2e2e2e" stroke-width="0.9" fill="#fff" />
<path d="M449.4,353.6 L465.0,359.6 L473.2,354.6" stroke="#555" stroke-width="0.5" fill="none" />
<ellipse cx="462.1" cy="353.2" rx="2.5" ry="1.6" transform="rotate(0 462.1 353.2)" stroke="#555" stroke-width="0.6" fill="none"/>
<path d="M551.6,304.6 C552.0,305.4 553.5,307.6 554.2,309.6 C554.9,311.6 554.9,314.5 555.6,316.6 C556.3,318.7 557.0,320.6 558.2,322.2 C559.4,323.8 561.2,325.5 562.6,326.4 C564.0,327.3 565.9,327.2 566.6,327.4 L570.6,324.6 L570.6,300.0 L556.0,300.0 Z" stroke="#2e2e2e" stroke-width="0.8" fill="#fff" />
<path d="M570.6,300.5 L570.6,324.6 L566.6,327.4" stroke="#2e2e2e" stroke-width="0.85" fill="none" />
<path d="M567.8,303.0 L567.8,326.4" stroke="#9a9a9a" stroke-width="0.6" fill="none" />
<path d="M543.8,298.8 L554.2,292.4 Q555.1,291.9 556.2,292.6 L568.8,299.8 L569.0,301.6 L559.8,307.6 Q558.9,308.1 557.6,307.3 L543.9,300.0 Z" stroke="#2e2e2e" stroke-width="0.9" fill="#fff" />
<path d="M544.2,299.0 L558.8,306.0 L568.8,300.2" stroke="#555" stroke-width="0.5" fill="none" />
<ellipse cx="555.4" cy="299.6" rx="2.6" ry="1.7" transform="rotate(0 555.4 299.6)" stroke="#555" stroke-width="0.6" fill="none"/>
<ellipse cx="463.0" cy="395.4" rx="5.2" ry="3.7" transform="rotate(0 463.0 395.4)" stroke="#2e2e2e" stroke-width="0.9" fill="#fff"/>
<path d="M457.8,395.4 v1.6 Q458.5,400.2 463.0,400.7 Q467.5,400.2 468.2,397.0 v-1.6" stroke="#2e2e2e" stroke-width="0.8" fill="none" />
<ellipse cx="463.0" cy="395.2" rx="3.0" ry="2.0" transform="rotate(0 463.0 395.2)" stroke="#444" stroke-width="0.7" fill="none"/>
<ellipse cx="463.0" cy="395.7" rx="1.9" ry="1.2" transform="rotate(0 463.0 395.7)" stroke="#555" stroke-width="0.5" fill="none"/>
<ellipse cx="555.1" cy="330.6" rx="5.2" ry="3.7" transform="rotate(0 555.1 330.6)" stroke="#2e2e2e" stroke-width="0.9" fill="#fff"/>
<path d="M549.9,330.6 v1.6 Q550.6,335.40000000000003 555.1,335.90000000000003 Q559.6,335.40000000000003 560.3000000000001,332.20000000000005 v-1.6" stroke="#2e2e2e" stroke-width="0.8" fill="none" />
<ellipse cx="555.1" cy="330.4" rx="3.0" ry="2.0" transform="rotate(0 555.1 330.4)" stroke="#444" stroke-width="0.7" fill="none"/>
<ellipse cx="555.1" cy="330.9" rx="1.9" ry="1.2" transform="rotate(0 555.1 330.9)" stroke="#555" stroke-width="0.5" fill="none"/>
<path d="M411.7,361.9 C412.1,361.4 412.9,359.7 414.2,359.1 C415.4,358.5 417.5,358.0 419.2,358.1 C420.9,358.2 422.4,358.6 424.3,359.6 C426.2,360.6 428.3,362.2 430.3,364.1 C432.3,366.0 434.5,368.7 436.4,371.2 C438.2,373.7 440.0,376.3 441.4,379.2 C442.8,382.1 444.0,385.6 444.5,388.3 C445.0,391.0 444.8,393.5 444.5,395.4 C444.2,397.3 443.2,398.6 442.6,399.6 C442.0,400.6 440.9,401.3 440.6,401.6 L433.6,406.4 L435.6,403.4 L437.4,398.4 L436.9,391.3 L434.4,383.3 L430.3,376.2 L425.3,370.2 L420.3,366.1 L415.7,363.1 L411.7,361.9 Z" stroke="#2e2e2e" stroke-width="0.85" fill="#fff" />
<path d="M414.8,431.1 L422.1,427.8 L428.8,455.5 Q429.4,461.6 425.4,466.5 L400.8,494.0 L397.7,492.5 L422.1,468.1 L421.2,460.6 Z" stroke="#2e2e2e" stroke-width="0.85" fill="#fff" />
<path d="M414.5,386.7 L414.8,431.1 L422.1,427.8 L422.1,383.0 L421.4,380.4 L420.3,379.2 L416.7,379.7 L414.7,382.3 Z" stroke="#2e2e2e" stroke-width="0.8" fill="#fff" />
<path d="M385.6,385.3 L394.3,380.6 C394.6,380.3 395.4,380.3 396.2,379.0 C397.0,377.7 398.2,374.8 399.3,372.6 C400.4,370.4 401.4,367.3 402.6,365.6 C403.8,363.9 405.1,363.2 406.6,362.6 C408.1,362.0 410.2,361.8 411.7,361.9 C413.2,362.0 414.3,362.4 415.7,363.1 C417.1,363.8 418.7,364.9 420.3,366.1 C421.9,367.3 423.6,368.5 425.3,370.2 C427.0,371.9 428.8,374.0 430.3,376.2 C431.8,378.4 433.3,380.8 434.4,383.3 C435.5,385.8 436.4,388.8 436.9,391.3 C437.4,393.8 437.6,396.4 437.4,398.4 C437.2,400.4 436.2,402.1 435.6,403.4 C435.0,404.7 433.9,405.9 433.6,406.4 C433.4,406.5 432.8,407.3 432.4,407.2 C432.0,407.1 431.2,405.9 431.0,405.6 C430.6,405.1 429.6,404.3 428.8,402.4 C428.0,400.5 426.9,396.9 426.3,394.4 C425.7,391.9 425.7,389.3 425.3,387.3 C424.9,385.3 424.6,383.7 423.8,382.3 C423.0,380.9 421.5,379.6 420.3,379.2 C419.1,378.8 417.6,379.2 416.7,379.7 C415.8,380.2 415.1,381.1 414.7,382.3 C414.3,383.5 414.5,386.0 414.5,386.7 L414.8,431.1 L421.2,460.6 Q422.6,465.6 422.1,468.1 L397.7,492.5 C396.9,492.2 394.0,491.3 392.6,490.6 C391.2,489.9 390.2,489.0 389.3,488.3 C388.4,487.6 387.5,486.9 387.0,486.2 C386.5,485.5 386.5,484.5 386.4,484.1 L386.7,461.4 L391.4,457.2 L391.4,418.5 C391.2,417.8 391.0,415.6 390.4,414.2 C389.8,412.8 388.4,411.5 387.6,410.1 C386.9,408.7 386.2,407.1 385.9,405.6 C385.6,404.1 385.7,401.8 385.6,401.0  Z" stroke="#2e2e2e" stroke-width="0.95" fill="#fff" />
<path d="M386.6,385.0 L393.4,381.3 L395.6,381.5 L392.0,385.0 Z" stroke="#555" stroke-width="0.5" fill="none" />
<path d="M415.7,363.1 L423.3,358.8" stroke="#555" stroke-width="0.5" fill="none" />
<path d="M420.3,366.1 L428.3,361.8" stroke="#555" stroke-width="0.5" fill="none" />
<path d="M423.3,365.6 C424.8,367.0 430.0,371.2 432.4,374.2 C434.8,377.1 436.2,380.3 437.4,383.3 C438.6,386.3 439.2,389.5 439.4,392.4 C439.6,395.2 438.6,399.1 438.4,400.4 " stroke="#bbb" stroke-width="0.5" fill="none" />
<path d="M433.6,406.4 L440.6,401.6" stroke="#2e2e2e" stroke-width="0.8" fill="none" />
<path d="M435.4,403.6 L441.4,399.2" stroke="#555" stroke-width="0.5" fill="none" />
<path d="M416.2,380.8 L421.6,378.6" stroke="#555" stroke-width="0.45" fill="none" />
<path d="M415.6,382.1 L421.6,379.3" stroke="#555" stroke-width="0.45" fill="none" />
<path d="M415.6,383.4 L421.6,380.6" stroke="#555" stroke-width="0.45" fill="none" />
<path d="M415.6,384.7 L421.6,381.9" stroke="#555" stroke-width="0.45" fill="none" />
<path d="M415.6,386.0 L421.6,383.2" stroke="#555" stroke-width="0.45" fill="none" />
<path d="M421.2,460.6 L428.8,456.6" stroke="#555" stroke-width="0.55" fill="none" />
<ellipse cx="411.5" cy="457.2" rx="4.7" ry="6.6" transform="rotate(-14 411.5 457.2)" stroke="#2e2e2e" stroke-width="0.85" fill="#fff"/>
<path d="M414.2,464.3 C413.9,464.2 413.1,464.3 412.5,464.1 C412.0,463.9 411.4,463.6 410.9,463.1 C410.4,462.7 409.9,462.1 409.5,461.5 C409.2,460.9 408.8,460.2 408.6,459.5 C408.4,458.8 408.2,458.0 408.2,457.2 C408.1,456.5 408.2,455.7 408.3,455.1 C408.5,454.4 408.8,453.7 409.1,453.2 C409.4,452.7 410.1,452.1 410.3,451.9 " stroke="#555" stroke-width="0.5" fill="none" />
<path d="M555.1,334.5 L555.1,339.3 L680.0,350.4 L731.1,355.1 L731.1,397.0" stroke="#555" stroke-width="0.5" fill="none" stroke-dasharray="5 1.2 0.8 1.2" stroke-linecap="butt"/>
<path d="M463.0,399.5 L463.0,402.0 L528.2,450.5 L528.2,514.0" stroke="#555" stroke-width="0.5" fill="none" stroke-dasharray="5 1.2 0.8 1.2" stroke-linecap="butt"/>
<path d="M604.6,422.7 L604.6,433.8 L560.9,458.9 L560.9,474.0" stroke="#555" stroke-width="0.5" fill="none" stroke-dasharray="5 1.2 0.8 1.2" stroke-linecap="butt"/>
<path d="M653.0,394.5 L653.0,404.6 L695.4,381.4 L695.4,397.0" stroke="#555" stroke-width="0.5" fill="none" stroke-dasharray="5 1.2 0.8 1.2" stroke-linecap="butt"/>
<path d="M462.4,272.6 L462.4,282.0" stroke="#555" stroke-width="0.5" fill="none" stroke-dasharray="5 1.2 0.8 1.2" stroke-linecap="butt"/>
<path d="M462.4,295.8 L462.4,351.5" stroke="#555" stroke-width="0.5" fill="none" stroke-dasharray="5 1.2 0.8 1.2" stroke-linecap="butt"/>
<path d="M462.4,362.0 L462.4,391.5" stroke="#555" stroke-width="0.5" fill="none" stroke-dasharray="5 1.2 0.8 1.2" stroke-linecap="butt"/>
<path d="M555.2,218.4 L555.2,227.4" stroke="#555" stroke-width="0.5" fill="none" stroke-dasharray="5 1.2 0.8 1.2" stroke-linecap="butt"/>
<path d="M555.2,241.2 L555.2,297.5" stroke="#555" stroke-width="0.5" fill="none" stroke-dasharray="5 1.2 0.8 1.2" stroke-linecap="butt"/>
<path d="M555.2,308.0 L555.2,326.5" stroke="#555" stroke-width="0.5" fill="none" stroke-dasharray="5 1.2 0.8 1.2" stroke-linecap="butt"/>
<path d="M518.5,346.2 L597.5,391.9" stroke="#333" stroke-width="0.6" fill="none" />
<path d="M504.0,339.0 L525.8,341.0 L509.4,350.6 Z" stroke="#000" stroke-width="0.5" fill="#000" />
<path d="M664.5,367.9 L687.8,355.0 Q690.4,354.0 691.6,356.6 Q692.6,359.6 690.4,361.2 L669.0,373.8 Z" stroke="#2e2e2e" stroke-width="0.85" fill="#fff" />
<path d="M601.4,417.4 v3.2 Q604.6,422.79999999999995 607.8000000000001,420.59999999999997 v-3.2 Z" stroke="#2e2e2e" stroke-width="0.8" fill="#fff" />
<path d="M650.8,389.2 v3.2 Q654.0,394.59999999999997 657.2,392.4 v-3.2 Z" stroke="#2e2e2e" stroke-width="0.8" fill="#fff" />
<path d="M578.4,411.0 L658.6,364.8 Q664.8,363.4 668.4,369.6 Q671.0,377.0 667.0,381.4 L591.4,426.8 Q588.0,428.6 584.6,427.2 Q578.0,423.0 576.2,416.0 Q576.0,412.4 578.4,411.0 Z" stroke="#2e2e2e" stroke-width="0.9" fill="#fff" />
<ellipse cx="584.6" cy="419.4" rx="5.0" ry="8.7" transform="rotate(-27 584.6 419.4)" stroke="#2e2e2e" stroke-width="0.8" fill="#fff"/>
<path d="M581.0,416.2 L555.6,431.0 Q552.8,432.4 553.4,435.6 Q554.6,439.4 558.0,438.8 L584.2,424.0 Q586.4,420.8 584.4,417.4 Q582.8,415.6 581.0,416.2 Z" stroke="#2e2e2e" stroke-width="0.85" fill="#fff" />
<ellipse cx="555.8" cy="435.0" rx="2.5" ry="3.8" transform="rotate(-20 555.8 435.0)" stroke="#2e2e2e" stroke-width="0.7" fill="none"/>
<path d="M596.5,395.6 Q597.2,392.0 600.5,390.5 L643.9,366.3 L649.0,369.8 L649.0,374.4 L599.5,403.7 L596.5,400.6 Z" stroke="#2e2e2e" stroke-width="0.9" fill="#fff" />
<path d="M598.0,396.0 Q598.8,394.0 601.2,392.8 L644.0,368.2 M599.6,403.6 L599.6,398.4 L649.0,369.9" stroke="#555" stroke-width="0.5" fill="none" />
<ellipse cx="602.5" cy="394.4" rx="1.2" ry="1.7" transform="rotate(-15 602.5 394.4)" stroke="#333" stroke-width="0.6" fill="none"/>
<ellipse cx="609.6" cy="390.8" rx="1.2" ry="1.7" transform="rotate(-15 609.6 390.8)" stroke="#333" stroke-width="0.6" fill="none"/>
<ellipse cx="636.4" cy="375.2" rx="1.2" ry="1.7" transform="rotate(-15 636.4 375.2)" stroke="#333" stroke-width="0.6" fill="none"/>
<ellipse cx="643.5" cy="371.0" rx="1.2" ry="1.7" transform="rotate(-15 643.5 371.0)" stroke="#333" stroke-width="0.6" fill="none"/>
<path d="M560.0,505.7 C562.1,504.6 568.8,501.1 572.8,499.3 C576.8,497.5 580.3,496.1 584.2,494.8 C588.1,493.5 592.4,492.7 596.3,491.6 C600.2,490.5 603.9,489.4 607.7,488.4 C611.5,487.4 615.2,486.6 619.0,485.6 C622.8,484.6 627.5,483.6 630.4,482.5 C633.3,481.4 635.0,480.3 636.4,478.7 C637.8,477.1 639.0,474.6 638.7,472.7 C638.5,470.8 636.9,468.9 634.9,467.4 C632.9,465.9 629.9,464.5 626.6,463.6 C623.3,462.7 619.1,462.3 615.3,462.1 C611.5,461.9 607.7,461.5 603.9,462.5 C600.1,463.5 594.5,467.2 592.6,468.2 " stroke="#404040" stroke-width="8.0" fill="none" stroke-linecap="butt"/>
<path d="M560.0,505.7 C562.1,504.6 568.8,501.1 572.8,499.3 C576.8,497.5 580.3,496.1 584.2,494.8 C588.1,493.5 592.4,492.7 596.3,491.6 C600.2,490.5 603.9,489.4 607.7,488.4 C611.5,487.4 615.2,486.6 619.0,485.6 C622.8,484.6 627.5,483.6 630.4,482.5 C633.3,481.4 635.0,480.3 636.4,478.7 C637.8,477.1 639.0,474.6 638.7,472.7 C638.5,470.8 636.9,468.9 634.9,467.4 C632.9,465.9 629.9,464.5 626.6,463.6 C623.3,462.7 619.1,462.3 615.3,462.1 C611.5,461.9 607.7,461.5 603.9,462.5 C600.1,463.5 594.5,467.2 592.6,468.2 " stroke="#bcbcbc" stroke-width="6.5" fill="none" stroke-linecap="butt"/>
<path d="M662.3,428.6 C660.6,429.7 655.4,432.9 652.2,435.2 C649.0,437.5 645.4,439.8 643.1,442.2 C640.8,444.6 638.9,446.9 638.6,449.3 C638.3,451.7 639.2,454.5 641.1,456.4 C643.0,458.3 646.7,460.0 650.2,460.9 C653.7,461.8 658.6,462.1 662.3,461.9 C666.0,461.6 669.5,461.0 672.4,459.4 C675.2,457.8 677.5,455.0 679.4,452.3 C681.2,449.6 682.0,446.2 683.5,443.2 C685.0,440.2 686.6,436.9 688.5,434.2 C690.4,431.5 692.6,428.9 694.6,427.1 C696.6,425.3 699.6,424.2 700.6,423.6 " stroke="#404040" stroke-width="8.0" fill="none" stroke-linecap="butt"/>
<path d="M662.3,428.6 C660.6,429.7 655.4,432.9 652.2,435.2 C649.0,437.5 645.4,439.8 643.1,442.2 C640.8,444.6 638.9,446.9 638.6,449.3 C638.3,451.7 639.2,454.5 641.1,456.4 C643.0,458.3 646.7,460.0 650.2,460.9 C653.7,461.8 658.6,462.1 662.3,461.9 C666.0,461.6 669.5,461.0 672.4,459.4 C675.2,457.8 677.5,455.0 679.4,452.3 C681.2,449.6 682.0,446.2 683.5,443.2 C685.0,440.2 686.6,436.9 688.5,434.2 C690.4,431.5 692.6,428.9 694.6,427.1 C696.6,425.3 699.6,424.2 700.6,423.6 " stroke="#bcbcbc" stroke-width="6.5" fill="none" stroke-linecap="butt"/>
<g transform="translate(560.4,505.5) rotate(151.5)"><path d="M-0.8,-3.7 L8.0,-3.9 L15.0,-4.0 Q17.6,-3.0 17.6,0 Q17.6,3.0 15.0,4.0 L8.0,3.9 L-0.8,3.7 Q0.6,0 -0.8,-3.7 Z" fill="#fff" stroke="#333" stroke-width="0.85"/><path d="M8.0,-3.9 Q9.6,0 8.0,3.9 M6.800000000000001,-3.8 Q8.4,0 6.800000000000001,3.8" stroke="#555" stroke-width="0.5" fill="none"/><ellipse cx="15.0" cy="0" rx="2.4" ry="3.9" fill="#fff" stroke="#333" stroke-width="0.8"/><ellipse cx="15.2" cy="0" rx="1.5" ry="2.7" fill="#fff" stroke="#444" stroke-width="0.6"/><path d="M8.0,-1.6 L14.2,-1.7 M8.0,1.6 L14.2,1.7" stroke="#777" stroke-width="0.4" fill="none"/></g>
<g transform="translate(592.8,468.9) rotate(151)"><path d="M-0.8,-3.7 L8.0,-3.9 L15.0,-4.0 Q17.6,-3.0 17.6,0 Q17.6,3.0 15.0,4.0 L8.0,3.9 L-0.8,3.7 Q0.6,0 -0.8,-3.7 Z" fill="#fff" stroke="#333" stroke-width="0.85"/><path d="M8.0,-3.9 Q9.6,0 8.0,3.9 M6.800000000000001,-3.8 Q8.4,0 6.800000000000001,3.8" stroke="#555" stroke-width="0.5" fill="none"/><ellipse cx="15.0" cy="0" rx="2.4" ry="3.9" fill="#fff" stroke="#333" stroke-width="0.8"/><ellipse cx="15.2" cy="0" rx="1.5" ry="2.7" fill="#fff" stroke="#444" stroke-width="0.6"/><path d="M8.0,-1.6 L14.2,-1.7 M8.0,1.6 L14.2,1.7" stroke="#777" stroke-width="0.4" fill="none"/></g>
<g transform="translate(661.9,428.8) rotate(-28.5)"><path d="M-0.8,-3.7 L5.6,-3.9 L12.6,-4.0 Q15.2,-3.0 15.2,0 Q15.2,3.0 12.6,4.0 L5.6,3.9 L-0.8,3.7 Q0.6,0 -0.8,-3.7 Z" fill="#fff" stroke="#333" stroke-width="0.85"/><path d="M5.6,-3.9 Q7.199999999999999,0 5.6,3.9 M4.4,-3.8 Q6.0,0 4.4,3.8" stroke="#555" stroke-width="0.5" fill="none"/><ellipse cx="12.6" cy="0" rx="2.4" ry="3.9" fill="#fff" stroke="#333" stroke-width="0.8"/><ellipse cx="12.799999999999999" cy="0" rx="1.5" ry="2.7" fill="#fff" stroke="#444" stroke-width="0.6"/><path d="M5.6,-1.6 L11.799999999999999,-1.7 M5.6,1.6 L11.799999999999999,1.7" stroke="#777" stroke-width="0.4" fill="none"/></g>
<g transform="translate(700.2,423.8) rotate(-28)"><path d="M-0.8,-3.7 L5.4,-3.9 L12.4,-4.0 Q15.0,-3.0 15.0,0 Q15.0,3.0 12.4,4.0 L5.4,3.9 L-0.8,3.7 Q0.6,0 -0.8,-3.7 Z" fill="#fff" stroke="#333" stroke-width="0.85"/><path d="M5.4,-3.9 Q7.0,0 5.4,3.9 M4.200000000000001,-3.8 Q5.800000000000001,0 4.200000000000001,3.8" stroke="#555" stroke-width="0.5" fill="none"/><ellipse cx="12.4" cy="0" rx="2.4" ry="3.9" fill="#fff" stroke="#333" stroke-width="0.8"/><ellipse cx="12.6" cy="0" rx="1.5" ry="2.7" fill="#fff" stroke="#444" stroke-width="0.6"/><path d="M5.4,-1.6 L11.6,-1.7 M5.4,1.6 L11.6,1.7" stroke="#777" stroke-width="0.4" fill="none"/></g>
<path d="M536.5,521.6 L541.5,519.0" stroke="#555" stroke-width="0.5" fill="none" />
<path d="M569.6,483.2 L574.0,480.6" stroke="#555" stroke-width="0.5" fill="none" />
<path d="M681.0,417.0 L686.0,414.4" stroke="#555" stroke-width="0.5" fill="none" />
<path d="M717.5,413.6 L722.5,411.2" stroke="#555" stroke-width="0.5" fill="none" />
<g transform="translate(560.6,475.4) scale(1,1)" stroke="#222" fill="#fff" stroke-width="0.8"><g transform="translate(0.3,12.0) rotate(-27)"><path d="M-1,-3.7 H7.8 V3.7 H-1 Z" /><path d="M3.8,-3.7 v7.4 M5.199999999999999,-3.7 v7.4" stroke-width="0.5" fill="none"/><ellipse cx="7.8" cy="0" rx="1.7" ry="3.7"/><ellipse cx="8.0" cy="0" rx="0.9" ry="2.2" stroke-width="0.5" fill="#ddd"/></g><path d="M-3.8,7.0 h7.6 v7.2 q0,3.4 -3.8,3.6 q-3.8,-0.2 -3.8,-3.6 Z"/><path d="M-1.4,7.4 v9.6 M1.2,7.4 v5.2" stroke-width="0.5" stroke="#555" fill="none"/><path d="M-4.0,3.6 h8.0 l0.4,0.8 v2.0 l-0.4,0.8 h-8.0 l-0.4,-0.8 v-2.0 Z" stroke-width="0.9"/><path d="M-1.7,3.6 v3.6 M1.7,3.6 v3.6" stroke-width="0.55" fill="none"/><path d="M-2.7,0 v3.6 h5.4 v-3.6" /><ellipse cx="0" cy="0" rx="2.7" ry="1.2"/><path d="M-2.7,1.2 q2.7,1.2 5.4,0 M-2.7,2.3 q2.7,1.2 5.4,0 M-2.7,3.2 q2.7,1.0 5.4,0" stroke-width="0.5" fill="none"/><ellipse cx="0" cy="0" rx="1.4" ry="0.6" stroke-width="0.5" fill="#888"/></g>
<g transform="translate(527.6,516.6) scale(1,1)" stroke="#222" fill="#fff" stroke-width="0.8"><g transform="translate(0.3,9.0) rotate(-27)"><path d="M-1,-3.8 H7.6 V3.8 H-1 Z" /><path d="M3.5999999999999996,-3.8 v7.6 M5.0,-3.8 v7.6" stroke-width="0.5" fill="none"/><ellipse cx="7.6" cy="0" rx="1.7" ry="3.8"/><ellipse cx="7.8" cy="0" rx="0.9" ry="2.3" stroke-width="0.5" fill="#ddd"/></g><path d="M-4.4,3.6 h8.6 v5.4 q0,3.4 -4.2,3.6 q-4.4,-0.2 -4.4,-3.8 Z"/><path d="M-1.6,5.6 v6.2 M1.4,5.6 v3.6" stroke-width="0.5" stroke="#555" fill="none"/><path d="M-5.2,0 v3.4 q0.6,2.6 5.2,2.8 q4.6,-0.2 5.2,-2.8 v-3.4 Z" stroke-width="0.9"/><path d="M-2.4,3.0 v2.8 M2.4,3.0 v2.8" stroke-width="0.55" fill="none"/><ellipse cx="0" cy="0" rx="5.2" ry="3.2" stroke-width="0.9"/><ellipse cx="0" cy="0.1" rx="3.4" ry="2.0" stroke-width="0.7"/><ellipse cx="0" cy="0.4" rx="2.2" ry="1.2" stroke-width="0.5" fill="#999"/></g>
<g transform="translate(695.2,397.4) scale(-1,1)" stroke="#222" fill="#fff" stroke-width="0.8"><path d="M-3.6,7.0 h7.2 v5.0 l-2.0,5.6 l-5.2,-3.2 Z"/><g transform="translate(-0.6,12.2) rotate(29)"><path d="M-1,-3.8 H7.4 V3.8 H-1 Z" /><path d="M3.4000000000000004,-3.8 v7.6 M4.800000000000001,-3.8 v7.6" stroke-width="0.5" fill="none"/><ellipse cx="7.4" cy="0" rx="1.7" ry="3.8"/><ellipse cx="7.6000000000000005" cy="0" rx="0.9" ry="2.3" stroke-width="0.5" fill="#ddd"/></g><path d="M-3.6,7.0 v6.0 q0.2,1.6 1.2,2.6" stroke-width="0.8" fill="none"/><path d="M-1.4,7.4 v3.2 M1.2,7.4 v2.2" stroke-width="0.5" stroke="#555" fill="none"/><path d="M-4.0,3.6 h8.0 l0.4,0.8 v2.0 l-0.4,0.8 h-8.0 l-0.4,-0.8 v-2.0 Z" stroke-width="0.9"/><path d="M-1.7,3.6 v3.6 M1.7,3.6 v3.6" stroke-width="0.55" fill="none"/><path d="M-2.7,0 v3.6 h5.4 v-3.6" /><ellipse cx="0" cy="0" rx="2.7" ry="1.2"/><path d="M-2.7,1.2 q2.7,1.2 5.4,0 M-2.7,2.3 q2.7,1.2 5.4,0 M-2.7,3.2 q2.7,1.0 5.4,0" stroke-width="0.5" fill="none"/><ellipse cx="0" cy="0" rx="1.4" ry="0.6" stroke-width="0.5" fill="#888"/></g>
<g transform="translate(730.5,400.2) scale(-1,1)" stroke="#222" fill="#fff" stroke-width="0.8"><path d="M-4.4,3.6 h8.6 v3.4 l-1.6,5.6 l-6.0,-3.6 Z"/><g transform="translate(-0.4,7.8) rotate(29)"><path d="M-1,-3.9 H6.6 V3.9 H-1 Z" /><path d="M2.5999999999999996,-3.9 v7.8 M3.9999999999999996,-3.9 v7.8" stroke-width="0.5" fill="none"/><ellipse cx="6.6" cy="0" rx="1.7" ry="3.9"/><ellipse cx="6.8" cy="0" rx="0.9" ry="2.3" stroke-width="0.5" fill="#ddd"/></g><path d="M-4.4,3.6 v4.0 q0.2,1.6 1.4,2.6" stroke-width="0.8" fill="none"/><path d="M-5.2,0 v3.4 q0.6,2.6 5.2,2.8 q4.6,-0.2 5.2,-2.8 v-3.4 Z" stroke-width="0.9"/><path d="M-2.4,3.0 v2.8 M2.4,3.0 v2.8" stroke-width="0.55" fill="none"/><ellipse cx="0" cy="0" rx="5.2" ry="3.2" stroke-width="0.9"/><ellipse cx="0" cy="0.1" rx="3.4" ry="2.0" stroke-width="0.7"/><ellipse cx="0" cy="0.4" rx="2.2" ry="1.2" stroke-width="0.5" fill="#999"/></g>
<rect x="590" y="94.2" width="55" height="89.2" rx="5.5" fill="#fff" stroke="#444" stroke-width="0.8"/>
<path d="M600.1,117.0 L604.3,109.6 Q605.4,108.2 607.0,108.5 L638.6,115.0 Q640.2,116.2 639.6,117.8 Q638.0,119.2 635.5,118.9 L627.9,116.9 L617.4,121.8 Q616.6,122.2 615.6,122.0 L601.8,120.3 Q599.6,119.4 600.1,117.0 Z" stroke="#2e2e2e" stroke-width="0.85" fill="#fff" />
<path d="M604.8,110.6 L637.6,117.6 M627.9,116.9 L621.0,115.4" stroke="#555" stroke-width="0.5" fill="none" />
<ellipse cx="607.8" cy="117.7" rx="1.3" ry="1.5" transform="rotate(0 607.8 117.7)" stroke="#2e2e2e" stroke-width="0.6" fill="none"/>
<ellipse cx="612.0" cy="127.0" rx="5.0" ry="1.7" transform="rotate(0 612.0 127.0)" stroke="#4a4a4a" stroke-width="0.5" fill="#fff"/>
<ellipse cx="612.0" cy="129.1" rx="5.0" ry="1.7" transform="rotate(0 612.0 129.1)" stroke="#4a4a4a" stroke-width="0.5" fill="none"/>
<ellipse cx="612.0" cy="131.2" rx="5.0" ry="1.7" transform="rotate(0 612.0 131.2)" stroke="#4a4a4a" stroke-width="0.5" fill="none"/>
<ellipse cx="612.0" cy="133.3" rx="5.0" ry="1.7" transform="rotate(0 612.0 133.3)" stroke="#4a4a4a" stroke-width="0.5" fill="none"/>
<ellipse cx="612.0" cy="135.4" rx="5.0" ry="1.7" transform="rotate(0 612.0 135.4)" stroke="#4a4a4a" stroke-width="0.5" fill="none"/>
<ellipse cx="612.0" cy="137.5" rx="5.0" ry="1.7" transform="rotate(0 612.0 137.5)" stroke="#4a4a4a" stroke-width="0.5" fill="none"/>
<ellipse cx="612.0" cy="139.6" rx="5.0" ry="1.7" transform="rotate(0 612.0 139.6)" stroke="#4a4a4a" stroke-width="0.5" fill="none"/>
<ellipse cx="612.0" cy="141.7" rx="5.0" ry="1.7" transform="rotate(0 612.0 141.7)" stroke="#4a4a4a" stroke-width="0.5" fill="none"/>
<ellipse cx="612.0" cy="143.8" rx="5.0" ry="1.7" transform="rotate(0 612.0 143.8)" stroke="#4a4a4a" stroke-width="0.5" fill="none"/>
<path d="M608.6,148.4 v13.4 h7.5 v-13.4" stroke="#2e2e2e" stroke-width="0.85" fill="#fff" />
<ellipse cx="612.4" cy="148.4" rx="3.8" ry="1.6" transform="rotate(0 612.4 148.4)" stroke="#2e2e2e" stroke-width="0.8" fill="#fff"/>
<ellipse cx="610.4" cy="153.2" rx="0.7" ry="0.9" transform="rotate(0 610.4 153.2)" stroke="#555" stroke-width="0.4" fill="none"/>
<path d="M606.0,161.8 Q606.0,160.4 608.6,160.6 L616.1,160.6 Q617.9,160.8 617.8,162.4 L617.8,170.2 L610.4,175.2 L606.0,171.6 Z" stroke="#2e2e2e" stroke-width="0.9" fill="#fff" />
<path d="M606.2,163.6 Q612,166.4 617.6,163.2 M610.4,175.2 v-9.6" stroke="#555" stroke-width="0.55" fill="none" />
<path d="M459.6,253.79999999999998 v4.6 l-1.0,2.0 v9.6 q0.2,2.2 3.9,2.4 q3.7,-0.2 3.9,-2.4 v-9.6 l-1.0,-2.0 v-4.6 Z" stroke="#2e2e2e" stroke-width="0.9" fill="#fff" />
<ellipse cx="462.5" cy="253.8" rx="2.9" ry="1.2" transform="rotate(0 462.5 253.8)" stroke="#2e2e2e" stroke-width="0.8" fill="#fff"/>
<ellipse cx="462.5" cy="253.8" rx="1.6" ry="0.6" transform="rotate(0 462.5 253.8)" stroke="#555" stroke-width="0.5" fill="none"/>
<path d="M459.6,255.6 q2.9,1.2 5.8,0 M459.6,257.2 q2.9,1.2 5.8,0 M458.6,260.4 q3.9,1.6 7.8,0 M458.6,264.6 q3.9,1.8 7.8,0" stroke="#555" stroke-width="0.5" fill="none" />
<path d="M552.3000000000001,199.6 v4.6 l-1.0,2.0 v9.6 q0.2,2.2 3.9,2.4 q3.7,-0.2 3.9,-2.4 v-9.6 l-1.0,-2.0 v-4.6 Z" stroke="#2e2e2e" stroke-width="0.9" fill="#fff" />
<ellipse cx="555.2" cy="199.6" rx="2.9" ry="1.2" transform="rotate(0 555.2 199.6)" stroke="#2e2e2e" stroke-width="0.8" fill="#fff"/>
<ellipse cx="555.2" cy="199.6" rx="1.6" ry="0.6" transform="rotate(0 555.2 199.6)" stroke="#555" stroke-width="0.5" fill="none"/>
<path d="M552.3000000000001,201.4 q2.9,1.2 5.8,0 M552.3000000000001,203.0 q2.9,1.2 5.8,0 M551.3000000000001,206.20000000000002 q3.9,1.6 7.8,0 M551.3000000000001,210.4 q3.9,1.8 7.8,0" stroke="#555" stroke-width="0.5" fill="none" />
<path d="M459.90000000000003,282.8 v3.4 h4.8 v-3.4 Z" stroke="#2e2e2e" stroke-width="0.8" fill="#fff" />
<ellipse cx="462.3" cy="282.8" rx="2.4" ry="0.9" transform="rotate(0 462.3 282.8)" stroke="#2e2e2e" stroke-width="0.7" fill="#fff"/>
<path d="M459.0,286.2 h6.6 v2.8 h-6.6 Z" stroke="#2e2e2e" stroke-width="0.9" fill="#fff" />
<path d="M461.1,286.2 v2.8 M463.7,286.2 v2.8" stroke="#333" stroke-width="0.5" fill="none" />
<path d="M459.90000000000003,289.0 v5.2 q2.4,1.6 4.8,0 v-5.2 Z" stroke="#2e2e2e" stroke-width="0.8" fill="#fff" />
<path d="M459.90000000000003,284.0 q2.4,1 4.8,0 M459.90000000000003,285.1 q2.4,1 4.8,0 M459.90000000000003,290.4 q2.4,1 4.8,0 M459.90000000000003,291.6 q2.4,1 4.8,0 M459.90000000000003,292.8 q2.4,1 4.8,0" stroke="#333" stroke-width="0.45" fill="none" />
<path d="M552.8000000000001,228.4 v3.4 h4.8 v-3.4 Z" stroke="#2e2e2e" stroke-width="0.8" fill="#fff" />
<ellipse cx="555.2" cy="228.4" rx="2.4" ry="0.9" transform="rotate(0 555.2 228.4)" stroke="#2e2e2e" stroke-width="0.7" fill="#fff"/>
<path d="M551.9000000000001,231.79999999999998 h6.6 v2.8 h-6.6 Z" stroke="#2e2e2e" stroke-width="0.9" fill="#fff" />
<path d="M554.0,231.79999999999998 v2.8 M556.6,231.79999999999998 v2.8" stroke="#333" stroke-width="0.5" fill="none" />
<path d="M552.8000000000001,234.6 v5.2 q2.4,1.6 4.8,0 v-5.2 Z" stroke="#2e2e2e" stroke-width="0.8" fill="#fff" />
<path d="M552.8000000000001,229.6 q2.4,1 4.8,0 M552.8000000000001,230.7 q2.4,1 4.8,0 M552.8000000000001,236.0 q2.4,1 4.8,0 M552.8000000000001,237.2 q2.4,1 4.8,0 M552.8000000000001,238.4 q2.4,1 4.8,0" stroke="#333" stroke-width="0.45" fill="none" />
<path d="M429.6,283.2 L429.8,296.4 Q430.6,299.0 433.4,300.2 L437.4,301.2 Q439.2,301.2 440.2,300.0 L443.0,297.0 L440.4,294.8 L437.4,297.6 L434.6,296.8 Q433.4,296.2 433.4,294.8 L433.6,283.6 Z" stroke="#2e2e2e" stroke-width="0.85" fill="#fff" />
<path d="M431.6,283.6 L431.7,296.6 Q432.6,299.0 436.6,299.4 L439.4,297.2" stroke="#555" stroke-width="0.5" fill="none" />
<path d="M428.5,277.6 Q428.2,275.6 430.2,275.0 L436.4,273.6 Q438.8,273.6 439.4,275.8 L439.4,279.6 Q439.0,281.6 436.8,282.2 L431.2,283.4 Q428.8,283.2 428.5,281.0 Z" stroke="#2e2e2e" stroke-width="0.9" fill="#fff" />
<path d="M428.8,277.4 Q431.6,279.4 432.4,283.0 M432.2,278.6 L439.2,276.6" stroke="#555" stroke-width="0.5" fill="none" />
<ellipse cx="446.0" cy="294.7" rx="4.8" ry="2.9" transform="rotate(-12 446.0 294.7)" stroke="#2e2e2e" stroke-width="0.9" fill="#fff"/>
<ellipse cx="446.0" cy="294.7" rx="2.6" ry="1.4" transform="rotate(-12 446.0 294.7)" stroke="#2e2e2e" stroke-width="0.7" fill="none"/>
<path d="M580.0,201.0 C582.5,209.0 580.5,217.5 573.6,224.8 L576.8,226.8 C584.5,218.8 586.8,209.5 584.4,200.4 Z" stroke="#2e2e2e" stroke-width="0.85" fill="#fff" />
<path d="M582.2,201.0 C584.4,209.2 582.4,218.4 575.4,225.8" stroke="#555" stroke-width="0.5" fill="none" />
<path d="M577.4,196.4 Q577.2,194.2 579.4,193.4 L584.6,191.8 Q587.6,191.8 588.6,194.2 L588.8,196.6 Q588.6,198.8 586.4,199.8 L581.4,201.6 Q578.4,201.4 577.6,199.0 Z" stroke="#2e2e2e" stroke-width="0.9" fill="#fff" />
<ellipse cx="579.9" cy="197.4" rx="1.9" ry="2.7" transform="rotate(-15 579.9 197.4)" stroke="#2e2e2e" stroke-width="0.7" fill="none"/>
<ellipse cx="579.9" cy="197.4" rx="0.9" ry="1.4" transform="rotate(-15 579.9 197.4)" stroke="#555" stroke-width="0.5" fill="none"/>
<path d="M581.6,199.6 L588.4,196.8" stroke="#555" stroke-width="0.5" fill="none" />
<ellipse cx="570.6" cy="228.2" rx="4.9" ry="2.9" transform="rotate(-8 570.6 228.2)" stroke="#2e2e2e" stroke-width="0.9" fill="#fff"/>
<ellipse cx="570.6" cy="228.2" rx="2.6" ry="1.4" transform="rotate(-8 570.6 228.2)" stroke="#2e2e2e" stroke-width="0.7" fill="none"/>
<g transform="translate(-7.4,1.6)">
<path d="M159.4,254.2 Q159.4,252.2 162.0,252.0 Q164.8,252.2 164.8,254.2 L164.8,257.6 L164.0,258.2 L164.0,271.4 Q162.2,273.2 160.4,271.4 L160.4,258.2 L159.4,257.6 Z" stroke="#2e2e2e" stroke-width="0.85" fill="#fff" />
<ellipse cx="162.1" cy="253.4" rx="1.5" ry="0.7" transform="rotate(0 162.1 253.4)" stroke="#2e2e2e" stroke-width="0.5" fill="none"/>
<path d="M159.4,255.4 h5.4 M160.4,262.6 h3.6 M160.4,264.4 h3.6 M160.4,266.2 h3.6 M160.4,268.0 h3.6 M160.4,269.8 h3.6 M161.4,256 v2 M163,256 v2" stroke="#444" stroke-width="0.45" fill="none" />
</g>
<text x="134.2" y="311.3" font-size="9.3" text-anchor="middle" fill="#1a1a1a" stroke="#1a1a1a" stroke-width="0.18" >4</text>
<path d="M140.1,307.5 L165.4,307.6" stroke="#333" stroke-width="0.55" fill="none" />
<text x="140.6" y="409.8" font-size="9.3" text-anchor="middle" fill="#1a1a1a" stroke="#1a1a1a" stroke-width="0.18" >5</text>
<path d="M146.3,406.5 L171.2,406.5" stroke="#333" stroke-width="0.55" fill="none" />
<text x="140.5" y="490.3" font-size="9.3" text-anchor="middle" fill="#1a1a1a" stroke="#1a1a1a" stroke-width="0.18" >6</text>
<path d="M146.3,486.5 L202.4,486.5" stroke="#333" stroke-width="0.55" fill="none" />
<text x="134.2" y="268.0" font-size="9.3" text-anchor="middle" fill="#1a1a1a" stroke="#1a1a1a" stroke-width="0.18" >7</text>
<path d="M140.1,264.5 L152.4,264.5" stroke="#333" stroke-width="0.55" fill="none" />
<text x="134.2" y="289.9" font-size="9.3" text-anchor="middle" fill="#1a1a1a" stroke="#1a1a1a" stroke-width="0.18" >2</text>
<path d="M140.1,286.5 L174.0,286.5" stroke="#333" stroke-width="0.55" fill="none" />
<text x="676.0" y="250.4" font-size="9.3" text-anchor="middle" fill="#1a1a1a" stroke="#1a1a1a" stroke-width="0.18" >3</text>
<path d="M649.0,247.2 L671.6,247.2" stroke="#333" stroke-width="0.55" fill="none" />
<circle cx="710.6" cy="247.2" r="9" fill="#fff" stroke="#333" stroke-width="0.7"/>
<text x="710.6" y="250.2" font-size="9.3" text-anchor="middle" fill="#1a1a1a" stroke="#1a1a1a" stroke-width="0.18" >1</text>
<path d="M710.6,256.2 L710.6,315.2" stroke="#333" stroke-width="0.55" fill="none" />
<text x="550.0" y="145.0" font-size="9.3" text-anchor="middle" fill="#1a1a1a" stroke="#1a1a1a" stroke-width="0.18" >8</text>
<path d="M555.6,142.0 L590.0,142.0" stroke="#333" stroke-width="0.55" fill="none" />
<text x="553.6" y="168.0" font-size="9.3" text-anchor="middle" fill="#1a1a1a" stroke="#1a1a1a" stroke-width="0.18" >9</text>
<path d="M553.6,171.2 L553.6,198.6" stroke="#333" stroke-width="0.55" fill="none" />
<text x="580.4" y="168.0" font-size="9.3" text-anchor="middle" fill="#1a1a1a" stroke="#1a1a1a" stroke-width="0.18" >12</text>
<path d="M580.4,171.2 L580.4,192.0" stroke="#333" stroke-width="0.55" fill="none" />
<text x="522.2" y="237.4" font-size="9.3" text-anchor="middle" fill="#1a1a1a" stroke="#1a1a1a" stroke-width="0.18" >10</text>
<path d="M530.8,234.4 L551.6,234.4" stroke="#333" stroke-width="0.55" fill="none" />
<text x="434.0" y="244.4" font-size="9.3" text-anchor="middle" fill="#1a1a1a" stroke="#1a1a1a" stroke-width="0.18" >11</text>
<path d="M434.0,246.6 L434.0,273.6" stroke="#333" stroke-width="0.55" fill="none" />
<text x="447.3" y="243.6" font-size="9.3" text-anchor="middle" fill="#1a1a1a" stroke="#1a1a1a" stroke-width="0.18" >9</text>
<path d="M447.3,245.8 L447.3,259.6 L458.2,265.4" stroke="#333" stroke-width="0.55" fill="none" />
<text x="482.6" y="272.6" font-size="9.3" text-anchor="middle" fill="#1a1a1a" stroke="#1a1a1a" stroke-width="0.18" >10</text>
<path d="M482.6,274.8 L482.6,280.6 L466.2,286.4" stroke="#333" stroke-width="0.55" fill="none" />
<text x="627.8" y="437.8" font-size="9.3" text-anchor="middle" fill="#1a1a1a" stroke="#1a1a1a" stroke-width="0.18" >16</text>
<path d="M627.8,405.8 L627.8,428.6" stroke="#333" stroke-width="0.55" fill="none" />
<text x="543.0" y="452.0" font-size="9.3" text-anchor="middle" fill="#1a1a1a" stroke="#1a1a1a" stroke-width="0.18" >15</text>
<path d="M543.0,454.8 L543.0,465.2 L557.6,475.6" stroke="#333" stroke-width="0.55" fill="none" />
<text x="710.2" y="378.8" font-size="9.3" text-anchor="middle" fill="#1a1a1a" stroke="#1a1a1a" stroke-width="0.18" >15</text>
<path d="M710.4,381.2 L710.4,392.0 L699.6,398.6" stroke="#333" stroke-width="0.55" fill="none" />
<text x="726.2" y="446.0" font-size="9.3" text-anchor="middle" fill="#1a1a1a" stroke="#1a1a1a" stroke-width="0.18" >13</text>
<path d="M727.0,414.6 L727.0,435.8" stroke="#333" stroke-width="0.55" fill="none" />
<text x="493.3" y="523.6" font-size="9.3" text-anchor="middle" fill="#1a1a1a" stroke="#1a1a1a" stroke-width="0.18" >13</text>
<path d="M501.6,520.5 L522.6,520.5" stroke="#333" stroke-width="0.55" fill="none" />
<text x="658.8" y="511.4" font-size="9.3" text-anchor="middle" fill="#1a1a1a" stroke="#1a1a1a" stroke-width="0.18" >14</text>
<path d="M658.8,480.2 L658.8,501.2" stroke="#333" stroke-width="0.55" fill="none" />
<path d="M644.2,474.2 L658.6,479.4 L665.4,468.1" stroke="#333" stroke-width="0.55" fill="none" />
</svg>
</body></html>
